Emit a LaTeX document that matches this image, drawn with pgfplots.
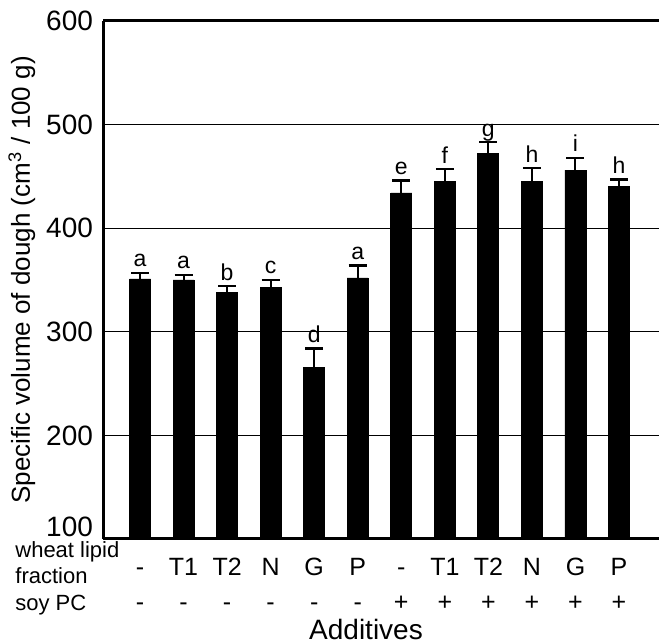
\documentclass[border=0pt]{standalone}
\usepackage{pgfplots}
\pgfplotsset{compat=1.18}
\usepackage{pgfplotstable}
\usepackage{fontspec}
\setmainfont{Liberation Sans}

\pgfplotstableread{
x y err lab
1 351 6 a
2 350 5 a
3 338 6 b
4 343 7 c
5 266 18 d
6 352 12 a
7 434 12 e
8 445 12 f
9 472 11 g
10 445 13 h
11 456 12 i
12 440 7 h
}\datatable

\begin{document}
\begin{tikzpicture}
\begin{axis}[
 scale only axis, width=278bp, height=259bp,
 xmin=0.15, xmax=12.918, ymin=100, ymax=600,
 clip=false,
 ytick={200,300,...,600},
 extra y ticks={100},
 extra y tick style={yticklabel style={yshift=6bp}},
 ymajorgrids, grid style={black, line width=0.5bp},
 major tick length=0pt,
 /pgf/number format/assume math mode=true,
 xtick={1,...,12},
 xticklabels={-,T1,T2,N,G,P,-,T1,T2,N,G,P},
 xticklabel style={anchor=base, yshift=-18.5bp, font=\fontsize{12.5bp}{14bp}\selectfont},
 extra x ticks={1,...,12},
 extra x tick labels={-,-,-,-,-,-,+,+,+,+,+,+},
 extra x tick style={xticklabel style={yshift=-17.5bp}},
 yticklabel style={font=\fontsize{14bp}{16bp}\selectfont, xshift=-1.5bp},
 axis x line=box, axis y line=left, axis line style={line width=1.5bp, -},
 ylabel={Specific volume of dough (cm\textsuperscript{3} / 100 g)},
 ylabel style={at={(axis description cs:-0.146,0.5)}, anchor=center, font=\fontsize{13bp}{15bp}\selectfont},
 xlabel={Additives},
 xlabel style={at={(axis description cs:0.473,0)}, anchor=base, yshift=-50.5bp, font=\fontsize{14bp}{16bp}\selectfont},
]
\addplot[ybar, bar width=10.5bp, bar shift=0pt, fill=black, draw=black,
  error bars/.cd, y dir=plus, y explicit,
  error bar style={line width=1bp, black},
  error mark options={rotate=90, line width=1.2bp, mark size=4.5bp, black}]
  table[x=x, y=y, y error=err] {\datatable};
\addplot[draw=none, mark=none, nodes near coords, point meta=explicit symbolic,
  nodes near coords style={anchor=base, yshift=3bp, inner sep=0pt, font=\fontsize{11.5bp}{13bp}\selectfont}]
  table[x=x, y expr=\thisrow{y}+\thisrow{err}, meta=lab] {\datatable};
\draw[line width=0.5bp] (rel axis cs:1,0) -- (rel axis cs:1,1);
\coordinate (A) at (rel axis cs:0,0);
\coordinate (B) at (rel axis cs:1,1);
\node[anchor=base west, inner sep=0pt, font=\fontsize{11bp}{13bp}\selectfont] at ([shift={(-44bp,-9.5bp)}]A) {wheat lipid};
\node[anchor=base west, inner sep=0pt, font=\fontsize{11bp}{13bp}\selectfont] at ([shift={(-44bp,-22.5bp)}]A) {fraction};
\node[anchor=base west, inner sep=0pt, font=\fontsize{11bp}{13bp}\selectfont] at ([shift={(-44bp,-36bp)}]A) {soy PC};
\end{axis}
\pgfresetboundingbox
\path ([shift={(-51.5bp,-52bp)}]A) rectangle ([shift={(0bp,10.5bp)}]B);
\end{tikzpicture}
\end{document}
